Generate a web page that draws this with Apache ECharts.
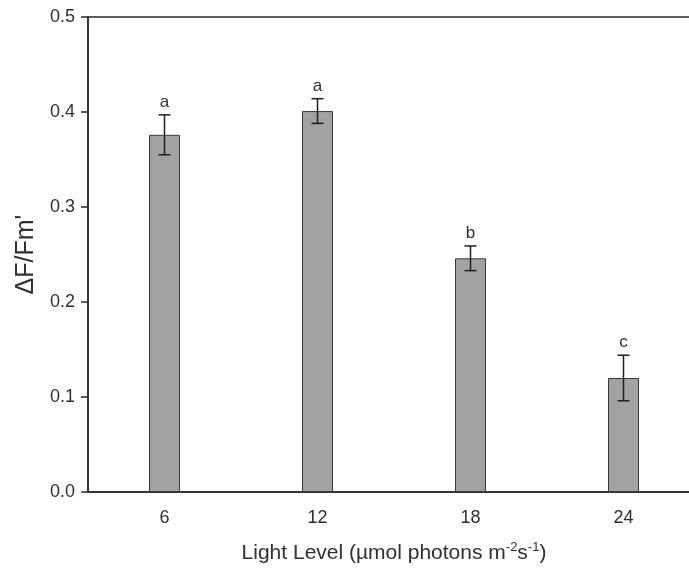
<!DOCTYPE html>
<html>
<head>
<meta charset="utf-8">
<script src="https://cdn.jsdelivr.net/npm/echarts@6/dist/echarts.min.js"></script>
<style>
  html, body { margin: 0; padding: 0; background: #fff; overflow: hidden; }
  /* the plot frame runs slightly past the right edge of the page */
  #chart { width: 700px; height: 577px; }
</style>
</head>
<body>
<div id="chart"></div>
<script>
// Light levels (µmol photons m-2 s-1)
const lightLevels = ['6', '12', '18', '24'];
// Mean effective quantum yield ΔF/Fm'
const yieldMeans = [0.376, 0.401, 0.246, 0.120];
// Standard error of each mean
const yieldErrors = [0.021, 0.013, 0.013, 0.024];
// Significance groups
const groupLetters = ['a', 'a', 'b', 'c'];
// Y axis ticks
const yTicks = [0.0, 0.1, 0.2, 0.3, 0.4, 0.5];

const font = 'Liberation Sans, Arial, Helvetica, sans-serif';
const ink = '#2a2a2a';
const textColor = '#303030';

const errData = lightLevels.map((c, i) => [i, yieldMeans[i], yieldErrors[i]]);

const chart = echarts.init(document.getElementById('chart'), null, { renderer: 'canvas' });

chart.setOption({
  animation: false,
  backgroundColor: '#fff',
  grid: {
    left: 88, top: 17, bottom: 85, right: 0,
    show: true, borderColor: ink, borderWidth: 1.5, backgroundColor: 'transparent'
  },
  xAxis: {
    type: 'category',
    data: lightLevels,
    boundaryGap: true,
    axisLine: { lineStyle: { color: ink, width: 1.5 } },
    axisTick: { alignWithLabel: true, length: 6, lineStyle: { color: ink, width: 1.5 } },
    axisLabel: { color: textColor, fontFamily: font, fontSize: 18, margin: 17 },
    name: 'Light Level (µmol photons m{sup|-2}s{sup|-1})',
    nameLocation: 'middle',
    nameGap: 49,
    nameTextStyle: {
      color: textColor, fontFamily: font, fontSize: 21,
      rich: { sup: { fontSize: 13, verticalAlign: 'top', padding: [0, 0, 12, 0], color: textColor, fontFamily: font } }
    }
  },
  yAxis: {
    type: 'value',
    min: yTicks[0],
    max: yTicks[yTicks.length - 1],
    interval: 0.1,
    splitLine: { show: false },
    axisLine: { show: true, lineStyle: { color: ink, width: 1.5 } },
    axisTick: { show: true, length: 7, lineStyle: { color: ink, width: 1.5 } },
    axisLabel: { color: textColor, fontFamily: font, fontSize: 18, margin: 13,
                 formatter: v => v.toFixed(1) },
    name: "ΔF/Fm'",
    nameLocation: 'middle',
    nameGap: 47,
    nameTextStyle: { color: textColor, fontFamily: font, fontSize: 25 }
  },
  series: [
    {
      type: 'bar',
      data: yieldMeans,
      barWidth: 31,
      itemStyle: { color: '#a2a2a2', borderColor: '#3a3a3a', borderWidth: 1 }
    },
    {
      type: 'custom',
      data: errData,
      z: 5,
      renderItem: function (params, api) {
        const x = api.value(0);
        const m = api.value(1);
        const e = api.value(2);
        const top = api.coord([x, m + e]);
        const bot = api.coord([x, m - e]);
        const cx = top[0];
        const hw = 6;
        const style = { stroke: '#1e1e1e', lineWidth: 1.5 };
        return {
          type: 'group',
          children: [
            { type: 'line', shape: { x1: cx, y1: top[1], x2: cx, y2: bot[1] }, style },
            { type: 'line', shape: { x1: cx - hw, y1: top[1], x2: cx + hw, y2: top[1] }, style },
            { type: 'line', shape: { x1: cx - hw, y1: bot[1], x2: cx + hw, y2: bot[1] }, style },
            { type: 'text', style: {
                text: groupLetters[params.dataIndex], x: cx, y: top[1] - 4,
                align: 'center', verticalAlign: 'bottom',
                font: '17px ' + font, fill: textColor
              } }
          ]
        };
      }
    }
  ]
});
</script>
</body>
</html>
